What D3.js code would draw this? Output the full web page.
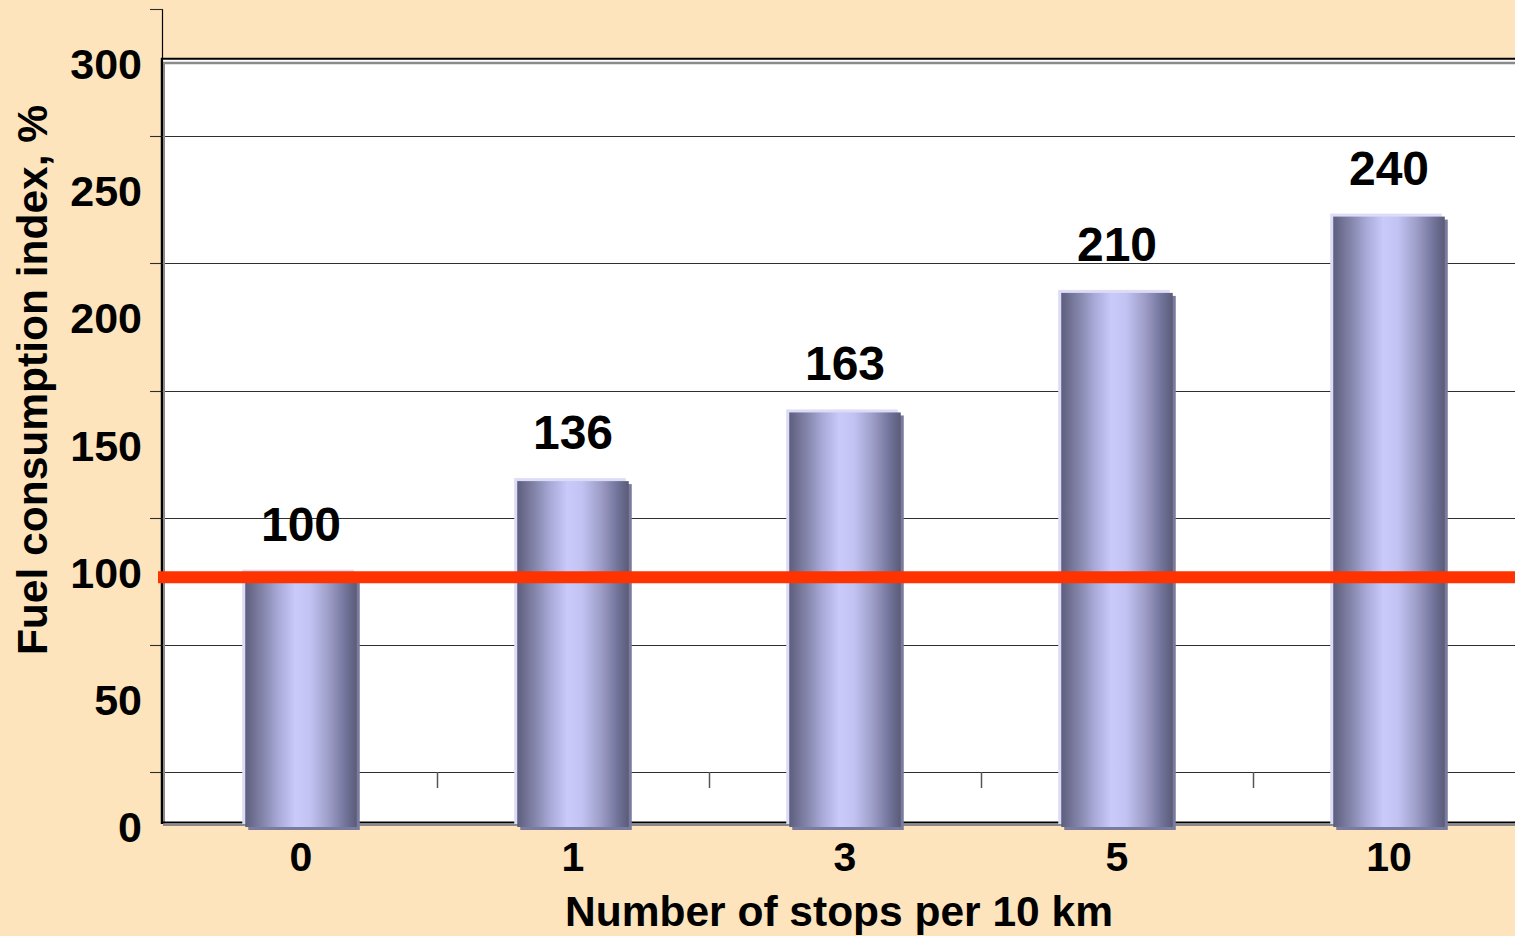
<!DOCTYPE html>
<html>
<head>
<meta charset="utf-8">
<script src="https://cdn.jsdelivr.net/npm/d3@7"></script>
<style>
  html, body { margin: 0; padding: 0; background: #FDE4BD; }
  svg { display: block; }
  text { font-family: "Liberation Sans", Arial, sans-serif; font-weight: bold; fill: #000; }
</style>
</head>
<body>
<script>
// Fuel consumption index by number of stops
const categories = ["0", "1", "3", "5", "10"];
const values = [100, 136, 163, 210, 240];
const yTicks = [0, 50, 100, 150, 200, 250, 300];
const referenceValue = 100;
const xTitle = "Number of stops per 10 km";
const yTitle = "Fuel consumption index, %";

const W = 1515, H = 936;
const plotLeft = 163, plotRight = 1515, plotTop = 58, plotBottom = 824;
const depth = 55; // back-wall offset of the 3D floor/gridlines

const svg = d3.select("body").append("svg").attr("width", W).attr("height", H);

const x = d3.scaleBand().domain(categories).range([165, 1525]).paddingInner(0.59).paddingOuter(0.295);
const y = d3.scaleLinear().domain([0, 300]).range([827, 64]);

// bar gradient
const defs = svg.append("defs");
const grad = defs.append("linearGradient").attr("id", "barGrad").attr("x1", "0%").attr("x2", "100%").attr("y1", "0").attr("y2", "0");
[[0, "#5e5f7e"], [0.14, "#7f80a4"], [0.30, "#a9aad8"], [0.45, "#c9c9fb"], [0.58, "#c3c3f3"], [0.75, "#9d9dc8"], [0.9, "#72739a"], [1, "#5b5b78"]]
  .forEach(([o, c]) => grad.append("stop").attr("offset", o).attr("stop-color", c));

// plot area
svg.append("rect").attr("x", plotLeft).attr("y", plotTop)
  .attr("width", plotRight - plotLeft).attr("height", plotBottom - plotTop).attr("fill", "#fff");

// gridlines on the back wall
const gridG = svg.append("g");
gridG.selectAll("line.grid").data(yTicks.filter(v => v < 300)).join("line")
  .attr("x1", plotLeft).attr("x2", plotRight)
  .attr("y1", d => Math.round(y(d) - depth) + 0.5).attr("y2", d => Math.round(y(d) - depth) + 0.5)
  .attr("stroke", "#2e2e2e").attr("stroke-width", 1.1);

// value axis line and tick marks
svg.append("line").attr("x1", plotLeft - 0.5).attr("x2", plotLeft - 0.5)
  .attr("y1", Math.round(y(300) - depth)).attr("y2", plotBottom).attr("stroke", "#000").attr("stroke-width", 1.2);
svg.selectAll("line.ytick").data(yTicks).join("line")
  .attr("x1", 150).attr("x2", plotLeft)
  .attr("y1", d => Math.round(y(d) - depth) + 0.5).attr("y2", d => Math.round(y(d) - depth) + 0.5)
  .attr("stroke", "#2e2e2e").attr("stroke-width", 1.1);

// category separator ticks on the floor
const step = x.step();
svg.selectAll("line.xtick").data(categories.slice(1)).join("line")
  .attr("x1", d => Math.round(x(d) - (step - x.bandwidth()) / 2) + 0.5)
  .attr("x2", d => Math.round(x(d) - (step - x.bandwidth()) / 2) + 0.5)
  .attr("y1", y(0) - depth).attr("y2", y(0) - depth + 16)
  .attr("stroke", "#555").attr("stroke-width", 1.5);

// plot frame
const frame = svg.append("g");
frame.append("line").attr("x1", plotLeft - 2).attr("x2", plotRight).attr("y1", plotTop + 0.75).attr("y2", plotTop + 0.75).attr("stroke", "#000").attr("stroke-width", 1.8);
frame.append("line").attr("x1", plotLeft).attr("x2", plotRight).attr("y1", plotTop + 5).attr("y2", plotTop + 5).attr("stroke", "#8a8a8a").attr("stroke-width", 2.5);
frame.append("line").attr("x1", plotLeft - 1.5).attr("x2", plotLeft - 1.5).attr("y1", plotTop).attr("y2", plotBottom).attr("stroke", "#000").attr("stroke-width", 1.5);
frame.append("line").attr("x1", plotLeft + 1).attr("x2", plotLeft + 1).attr("y1", plotTop + 4).attr("y2", plotBottom).attr("stroke", "#8a8a8a").attr("stroke-width", 2);
frame.append("line").attr("x1", plotLeft - 2).attr("x2", plotRight).attr("y1", plotBottom - 1.5).attr("y2", plotBottom - 1.5).attr("stroke", "#000").attr("stroke-width", 1.8);
frame.append("line").attr("x1", plotLeft).attr("x2", plotRight).attr("y1", plotBottom + 0.8).attr("y2", plotBottom + 0.8).attr("stroke", "#8a8a8a").attr("stroke-width", 2.4);

// bars: highlight edge, shadow edge, gradient body
const bars = svg.append("g").selectAll("g").data(values).join("g");
bars.append("rect")
  .attr("x", (d, i) => x(categories[i]) - 3).attr("y", d => y(d) - 3)
  .attr("width", x.bandwidth()).attr("height", d => y(0) - y(d))
  .attr("fill", "#dcdcf8");
bars.append("rect")
  .attr("x", (d, i) => x(categories[i]) + 3).attr("y", d => y(d) + 3)
  .attr("width", x.bandwidth()).attr("height", d => y(0) - y(d))
  .attr("fill", "#7a7b9e");
bars.append("rect")
  .attr("x", (d, i) => x(categories[i])).attr("y", d => y(d))
  .attr("width", x.bandwidth()).attr("height", d => y(0) - y(d))
  .attr("fill", "url(#barGrad)");

// reference line at the base index
svg.append("line")
  .attr("x1", 158).attr("x2", W)
  .attr("y1", y(referenceValue) + 4.5).attr("y2", y(referenceValue) + 4.5)
  .attr("stroke", "#FF3300").attr("stroke-width", 12);

// value labels
svg.append("g").selectAll("text").data(values).join("text")
  .attr("x", (d, i) => x(categories[i]) + x.bandwidth() / 2)
  .attr("y", d => y(d) - 32)
  .attr("text-anchor", "middle").attr("font-size", 48)
  .text(d => d);

// value axis labels
svg.append("g").selectAll("text").data(yTicks).join("text")
  .attr("x", 142).attr("y", d => y(d))
  .attr("dy", "0.35em")
  .attr("text-anchor", "end").attr("font-size", 43)
  .text(d => d);

// category labels
svg.append("g").selectAll("text").data(categories).join("text")
  .attr("x", d => x(d) + x.bandwidth() / 2).attr("y", 871)
  .attr("text-anchor", "middle").attr("font-size", 41)
  .text(d => d);

// axis titles
svg.append("text").attr("x", 839).attr("y", 926).attr("text-anchor", "middle").attr("font-size", 42.5).text(xTitle);
svg.append("text").attr("transform", "translate(47,380) rotate(-90)").attr("text-anchor", "middle").attr("font-size", 42.5).text(yTitle);
</script>
</body>
</html>
